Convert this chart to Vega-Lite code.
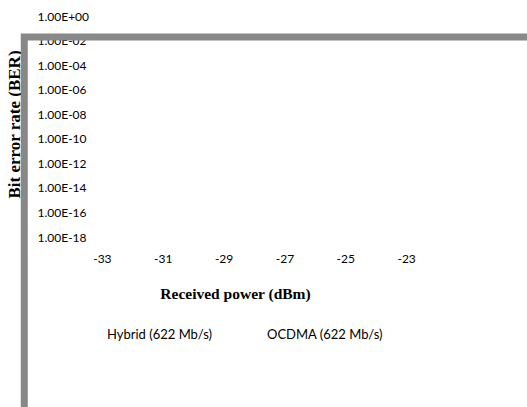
{
  "$schema": "https://vega.github.io/schema/vega-lite/v6.json",
  "autosize": {"type": "none"},
  "width": 426,
  "height": 221,
  "padding": {"left": 41, "top": 16, "right": 60, "bottom": 170},
  "background": "white",
  "config": {"view": {"stroke": null}},
  "datasets": {
    "series": [
      {"series": "Hybrid (622 Mb/s)"},
      {"series": "OCDMA (622 Mb/s)"}
    ]
  },
  "layer": [
    {
      "data": {"name": "series"},
      "mark": {"type": "line"},
      "encoding": {
        "x": {
          "field": "power",
          "type": "quantitative",
          "scale": {"domain": [-35, -21], "nice": false, "zero": false},
          "axis": {
            "title": "Received power (dBm)",
            "values": [-33, -31, -29, -27, -25, -23],
            "labelExpr": "'-' + (-datum.value)",
            "domain": false,
            "ticks": false,
            "tickSize": 0,
            "grid": false,
            "labelFont": "Lato",
            "labelFontSize": 12,
            "labelColor": "#000000",
            "labelBaseline": "middle",
            "labelPadding": 21,
            "titleFont": "Liberation Serif",
            "titleFontSize": 15.5,
            "titleFontWeight": "bold",
            "titleColor": "#000000",
            "titleX": 194,
            "titleY": 56,
            "titleBaseline": "middle",
            "titleAlign": "center"
          }
        },
        "y": {
          "field": "ber",
          "type": "quantitative",
          "scale": {"type": "log", "domain": [1e-18, 1], "nice": false},
          "axis": {
            "title": "Bit error rate (BER)",
            "values": [1, 1e-2, 1e-4, 1e-6, 1e-8, 1e-10, 1e-12, 1e-14, 1e-16, 1e-18],
            "labelExpr": "datum.value >= 1 ? '1.00E+00' : '1.00E-' + (round(-log(datum.value)/LN10) < 10 ? '0' : '') + round(-log(datum.value)/LN10)",
            "domain": false,
            "ticks": false,
            "tickSize": 0,
            "grid": false,
            "labelFont": "Lato",
            "labelFontSize": 12,
            "labelColor": "#000000",
            "labelAlign": "left",
            "labelBaseline": "middle",
            "labelPadding": 4,
            "titleFont": "Liberation Serif",
            "titleFontSize": 17,
            "titleFontWeight": "bold",
            "titleColor": "#000000",
            "titleAngle": -90,
            "titleX": -27,
            "titleY": 108,
            "titleBaseline": "middle",
            "titleAlign": "center"
          }
        },
        "color": {
          "field": "series",
          "type": "nominal",
          "scale": {"domain": ["Hybrid (622 Mb/s)", "OCDMA (622 Mb/s)"], "range": ["#1f4e79", "#c00000"]},
          "legend": {
            "title": null,
            "orient": "none",
            "direction": "horizontal",
            "legendX": 53,
            "legendY": 312,
            "padding": 0,
            "symbolSize": 0,
            "symbolOpacity": 0,
            "symbolStrokeWidth": 0,
            "labelOffset": 0,
            "columnPadding": 42,
            "labelFont": "Lato",
            "labelFontSize": 13,
            "labelColor": "#000000"
          }
        }
      }
    },
    {
      "data": {"values": [{}]},
      "mark": {"type": "rect", "fill": null, "stroke": "#888888", "strokeWidth": 7, "clip": false},
      "encoding": {
        "x": {"datum": -35.55, "type": "quantitative"},
        "x2": {"datum": -10},
        "y": {"datum": 0.0191, "type": "quantitative"},
        "y2": {"datum": 1e-40}
      }
    }
  ]
}
